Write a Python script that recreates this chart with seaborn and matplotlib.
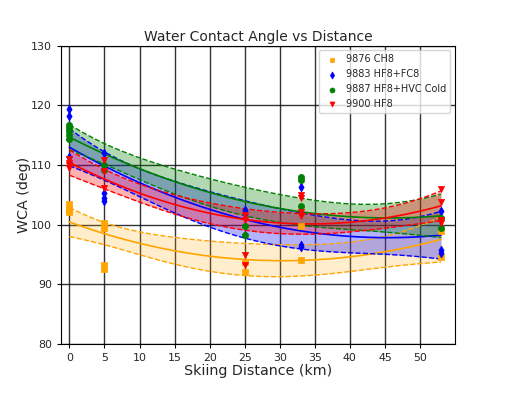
import numpy as np
import pandas as pd
import matplotlib
matplotlib.use("Agg")
import matplotlib.pyplot as plt
import seaborn as sns

# ---- data ----
labels = ["9876 CH8", "9883 HF8+FC8", "9887 HF8+HVC Cold", "9900 HF8"]
colors = ["orange", "blue", "green", "red"]
markers = ["s", "d", "o", "v"]

x_ch8 = [0, 0, 0, 5, 5, 5, 5, 25, 25, 33, 33, 53, 53]
y_ch8 = [103.4, 102.6, 102.2, 100.3, 99.4, 93.2, 92.5, 93.8, 92.1, 99.7, 94.0, 98.9, 94.6]

x_fc8 = [0, 0, 0, 5, 5, 5, 5, 25, 25, 33, 33, 33, 53, 53, 53]
y_fc8 = [119.4, 118.2, 111.4, 112.0, 105.3, 104.5, 103.9, 102.5, 101.8, 106.3, 96.6, 96.2, 102.3, 95.8, 95.3]

x_hvc = [0, 0, 0, 0, 0, 5, 5, 25, 25, 33, 33, 33, 53, 53]
y_hvc = [116.7, 116.2, 115.7, 115.0, 114.4, 110.0, 109.2, 99.7, 98.3, 107.9, 107.4, 103.2, 101.1, 99.4]

x_hf8 = [0, 0, 0, 0, 5, 5, 5, 25, 25, 25, 25, 33, 33, 33, 33, 53, 53, 53, 53]
y_hf8 = [111.0, 110.4, 110.0, 109.5, 110.8, 109.0, 106.2, 101.6, 100.8, 94.9, 93.3, 105.0, 104.4, 102.2, 101.5, 105.9, 103.8, 100.7, 100.2]

xs = [x_ch8, x_fc8, x_hvc, x_hf8]
ys = [y_ch8, y_fc8, y_hvc, y_hf8]

x_ticks = list(range(0, 55, 5))
y_ticks = list(range(80, 131, 10))

sns.set_style("ticks")
plt.rcParams["font.family"] = ["DejaVu Sans"]

fig = plt.figure(figsize=(5.06, 3.93), dpi=100)
ax = fig.add_axes([61 / 506, 1 - 344 / 393, (455 - 61) / 506, (344 - 45.6) / 393])

xfit = np.linspace(0, 53, 120)
for lab, col, mk, xv, yv in zip(labels, colors, markers, xs, ys):
    xa = np.array(xv, float)
    ya = np.array(yv, float)
    p, cov = np.polyfit(xa, ya, 2, cov=True)
    V = np.vstack([xfit ** 2, xfit, np.ones_like(xfit)]).T
    yfit = V @ p
    se = 1.5 * np.sqrt(np.einsum("ij,jk,ik->i", V, cov, V))
    lo, hi = yfit - se, yfit + se
    fdf = pd.DataFrame({"x": xfit, "y": yfit, "lo": lo, "hi": hi})
    sns.lineplot(data=fdf, x="x", y="y", color=col, lw=1.2, ax=ax)
    sns.lineplot(data=fdf, x="x", y="lo", color=col, lw=1.0, ls="--", ax=ax)
    sns.lineplot(data=fdf, x="x", y="hi", color=col, lw=1.0, ls="--", ax=ax)
    ax.fill_between(fdf["x"], fdf["lo"], fdf["hi"], color=col, alpha=0.2 if col == "orange" else 0.3, lw=0)
    sdf = pd.DataFrame({"x": xa, "y": ya})
    sns.scatterplot(data=sdf, x="x", y="y", color=col, marker=mk, s=20, edgecolor=col,
                    linewidth=0.5, ax=ax, label=lab, zorder=5)

ax.set_xlim(-1.2, 55)
ax.set_ylim(80, 130)
ax.set_xticks(x_ticks)
ax.set_yticks(y_ticks)
ax.grid(True, color="black", lw=1.0, alpha=0.8)
ax.set_axisbelow(True)
for s in ax.spines.values():
    s.set_color("black")
    s.set_linewidth(0.8)
ax.tick_params(labelsize=7.9, length=3, color="black")
ax.set_title("Water Contact Angle vs Distance", fontsize=10, pad=3)
ax.set_xlabel("Skiing Distance (km)", fontsize=10.3, labelpad=1)
ax.set_ylabel("WCA (deg)", fontsize=10.3, labelpad=0)
ax.legend(loc="upper right", fontsize=7, frameon=True, fancybox=True, handletextpad=0.4,
          markerscale=0.8)

fig.savefig("out.png", dpi=100)
